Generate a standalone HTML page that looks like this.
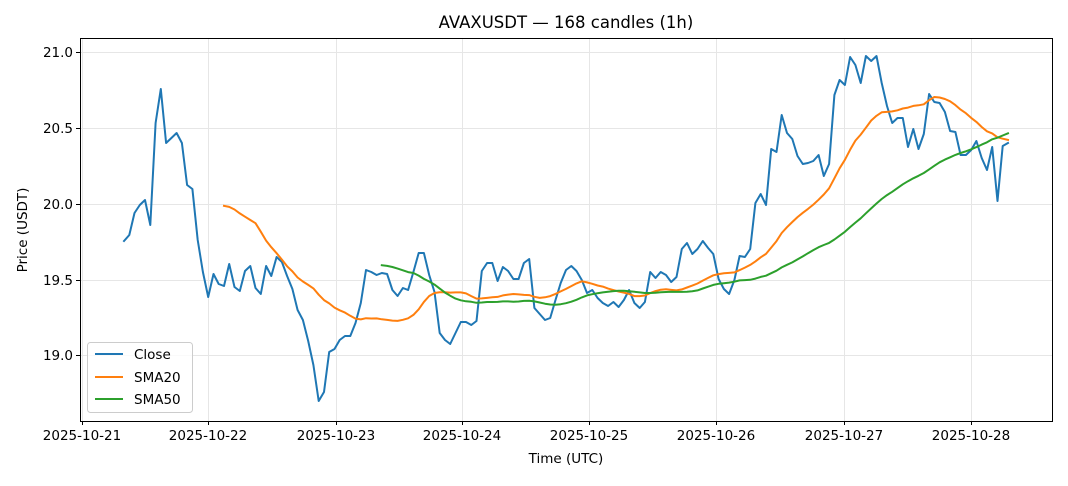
<!DOCTYPE html>
<html><head><meta charset="utf-8"><style>
body{margin:0;background:#fff;}
svg text{font-family:"DejaVu Sans","Liberation Sans",sans-serif;fill:#000;}
</style></head><body>
<svg id="s" width="1068" height="481" xmlns="http://www.w3.org/2000/svg">
<rect width="1068" height="481" fill="#fff"/>
<g id="grid" stroke="#e6e6e6" stroke-width="1"></g>
<g id="lines" fill="none" stroke-width="2" stroke-linejoin="round" stroke-linecap="square"></g>
<rect x="80.5" y="38.5" width="972" height="383" fill="none" stroke="#000" stroke-width="1"/>
<g id="ticks"></g>
<text x="566" y="28" font-size="16.5" text-anchor="middle">AVAXUSDT — 168 candles (1h)</text>
<text x="566" y="463" font-size="13.5" text-anchor="middle">Time (UTC)</text>
<text transform="translate(27,230) rotate(-90)" font-size="13.5" text-anchor="middle">Price (USDT)</text>
<g>
<rect x="87.5" y="342.5" width="105" height="70" rx="3" fill="#fff" fill-opacity="0.8" stroke="#cccccc"/>
<line x1="95" y1="354" x2="123" y2="354" stroke="#1f77b4" stroke-width="2"/>
<text x="134" y="359" font-size="13.5">Close</text>
<line x1="95" y1="377" x2="123" y2="377" stroke="#ff7f0e" stroke-width="2"/>
<text x="134" y="382" font-size="13.5">SMA20</text>
<line x1="95" y1="399" x2="123" y2="399" stroke="#2ca02c" stroke-width="2"/>
<text x="134" y="404" font-size="13.5">SMA50</text>
</g>
</svg>
<script>
var ys=[241,235,213,205,200,225,123,89,143,138,133,143,185,189,240,272,297,274,284,286,264,287,291,271,266,288,294,266,276,257,262,276,289,310,320,341,365,401,392,352,349,340,336,336,323,303,270,272,275,273,274,290,296,288,290,272,253,253,275,292,333,340,344,333,322,322,325,321,271,263,263,281,267,271,279,279,263,259,308,314,320,318,300,283,270,266,271,280,293,290,298,303,306,302,307,300,290,303,308,302,272,278,272,275,282,277,249,243,254,249,241,248,254,279,289,294,280,256,257,249,203,194,205,149,152,115,133,139,156,164,163,161,155,176,164,95,80,85,57,65,83,56,61,56,83,106,123,118,118,147,129,149,134,94,102,103,112,131,132,155,155,150,141,158,170,147,201,146,143];
var n=ys.length,x0=124,x1=1008,dx=(x1-x0)/(n-1);
function X(i){return x0+i*dx;}
var NS="http://www.w3.org/2000/svg";
function el(p,t,a,txt){var e=document.createElementNS(NS,t);for(var k in a)e.setAttribute(k,a[k]);if(txt)e.textContent=txt;p.appendChild(e);return e;}
var g=document.getElementById('grid'),tk=document.getElementById('ticks'),L=document.getElementById('lines');
var yt=[[52,'21.0'],[128,'20.5'],[204,'20.0'],[280,'19.5'],[355,'19.0']];
yt.forEach(function(t){el(g,'line',{x1:81,x2:1052,y1:t[0]+.5,y2:t[0]+.5});el(tk,'line',{x1:76,x2:80,y1:t[0]+.5,y2:t[0]+.5,stroke:'#000'});el(tk,'text',{x:73,y:t[0]+5,'font-size':13.5,'text-anchor':'end'},t[1]);});
var xs=[82,208,336,462,589,716,844,971];
xs.forEach(function(x,i){el(g,'line',{x1:x+.5,x2:x+.5,y1:39,y2:421});el(tk,'line',{x1:x+.5,x2:x+.5,y1:421,y2:425,stroke:'#000'});el(tk,'text',{x:x,y:440,'font-size':13.5,'text-anchor':'middle'},'2025-10-2'+(i+1));});
function path(pts,c){var d='';pts.forEach(function(p,i){d+=(i?'L':'M')+p[0].toFixed(1)+','+p[1].toFixed(1);});el(L,'path',{d:d,stroke:c});}
function sma(w){var r=[];for(var i=w-1;i<n;i++){var s=0;for(var j=i-w+1;j<=i;j++)s+=ys[j];r.push([X(i),s/w]);}return r;}
path(ys.map(function(y,i){return [X(i),y];}),'#1f77b4');
path(sma(20),'#ff7f0e');
path(sma(50),'#2ca02c');
</script>
</body></html>
